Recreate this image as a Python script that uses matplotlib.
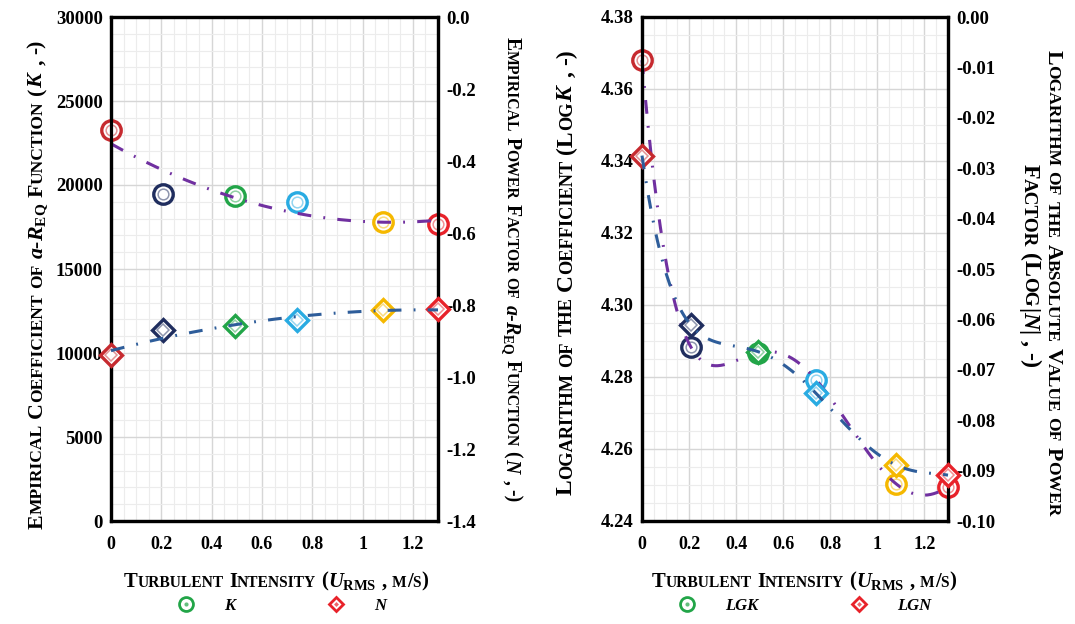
import numpy as np
import matplotlib
matplotlib.use("Agg")
import matplotlib.pyplot as plt
from matplotlib.lines import Line2D
from matplotlib.ticker import MultipleLocator, FixedLocator, FuncFormatter
from matplotlib.transforms import IdentityTransform

SERIF = "Liberation Serif"
plt.rcParams["font.family"] = SERIF
plt.rcParams["font.weight"] = "bold"
plt.rcParams["axes.unicode_minus"] = False
plt.rcParams["mathtext.fontset"] = "custom"
plt.rcParams["mathtext.rm"] = "Liberation Serif:bold"
plt.rcParams["mathtext.it"] = "Liberation Serif:italic:bold"
plt.rcParams["mathtext.bf"] = "Liberation Serif:bold"

# turbulent intensity u_rms (m/s) for the six test cases
u_rms = [0.0, 0.207, 0.493, 0.740, 1.080, 1.300]
K = [23300, 19450, 19350, 18980, 17800, 17700]
N = [-0.940, -0.869, -0.859, -0.841, -0.815, -0.811]
LGK = [4.3680, 4.2884, 4.2867, 4.2792, 4.2503, 4.2495]
LGN = [-0.0275, -0.0611, -0.0664, -0.0747, -0.0889, -0.0909]
point_colors = ["#c62a2f", "#1f2d5e", "#22a548", "#29abe2", "#f5b800", "#e8222a"]
x_ticks = [0, 0.2, 0.4, 0.6, 0.8, 1.0, 1.2]

W, H = 1075, 624
fig = plt.figure(figsize=(W / 100, H / 100), dpi=100)
renderer = fig.canvas.get_renderer()
PX = fig.dpi / 72


def caps_parts(text, big, small):
    parts = []
    for i, word in enumerate(text.split(" ")):
        if i:
            parts.append((" ", big))
        run, run_size = "", None
        for ch in word:
            size = small if ch.islower() else big
            if run and size != run_size:
                parts.append((run, run_size))
                run = ""
            run += ch.upper()
            run_size = size
        if run:
            parts.append((run, run_size))
    return parts


def measure(items, big, ratio):
    parts = []
    for item in items:
        if item.startswith("$"):
            parts.append((item, big))
        else:
            parts += caps_parts(item, big, big * ratio)
    widths = []
    for s, size in parts:
        if s == " ":
            widths.append(0.25 * size * PX)
        else:
            t = fig.text(0, 0, s, fontsize=size, fontweight="bold")
            widths.append(t.get_window_extent(renderer).width)
            t.remove()
    return parts, widths


def place_label(items, cx, cy_top, rotation, length, ratio=0.8):
    # small-caps label, pieces laid one after another along the text direction
    parts, widths = measure(items, 13, ratio)
    big = 13 * length / sum(widths)
    parts, widths = measure(items, big, ratio)
    total = sum(widths)
    cy = H - cy_top
    cap = 0.66 * big * PX
    pos = -total / 2
    for (s, size), w in zip(parts, widths):
        if s != " ":
            if rotation == 0:
                x, y = cx + pos, cy - cap / 2
            elif rotation == 90:
                x, y = cx + cap / 2, cy + pos
            else:
                x, y = cx - cap / 2, cy - pos
            fig.text(x, y, s, fontsize=size, fontweight="bold", rotation=rotation,
                     rotation_mode="anchor", ha="left", va="baseline",
                     transform=IdentityTransform())
        pos += w


def ring_markers(ax, x, y, marker, ms):
    for xi, yi, c in zip(x, y, point_colors):
        ax.plot(xi, yi, marker=marker, ms=ms, mfc="white", mec=c, mew=2.4,
                ls="none", zorder=3, clip_on=False)
        ax.plot(xi, yi, marker=marker, ms=ms * 0.55, mfc="none", mec=c, mew=1.1,
                alpha=0.5, ls="none", zorder=3, clip_on=False)


def trend(ax, x, y, deg, color):
    fit = np.polynomial.Polynomial.fit(x, y, deg)
    xs = np.linspace(0, 1.3, 300)
    ax.plot(xs, fit(xs), color=color, lw=2.2, dashes=(4.5, 4, 0.6, 4),
            zorder=4, clip_on=False)


def frame(ax, twin, ylim, ymajor, yminor, ylim2, ymajor2, fmt, fmt2):
    ax.set_xlim(0, 1.3)
    ax.xaxis.set_major_locator(FixedLocator(x_ticks))
    ax.xaxis.set_minor_locator(MultipleLocator(0.05))
    ax.xaxis.set_major_formatter(FuncFormatter(lambda v, p: f"{v:g}"))
    ax.set_ylim(*ylim)
    ax.yaxis.set_major_locator(MultipleLocator(ymajor))
    ax.yaxis.set_minor_locator(MultipleLocator(yminor))
    ax.yaxis.set_major_formatter(FuncFormatter(fmt))
    twin.set_ylim(*ylim2)
    twin.yaxis.set_major_locator(MultipleLocator(ymajor2))
    twin.yaxis.set_major_formatter(FuncFormatter(fmt2))
    ax.grid(which="major", color="#d6d6d6", lw=1.0)
    ax.grid(which="minor", color="#ececec", lw=0.8)
    ax.set_axisbelow(True)
    ax.tick_params(which="both", length=0, labelsize=13.5)
    ax.tick_params(axis="y", pad=6)
    ax.tick_params(axis="x", pad=11, labelsize=13)
    twin.tick_params(which="both", length=0, labelsize=13.5, pad=6)
    for a in (ax, twin):
        for sp in a.spines.values():
            sp.set_linewidth(2.3)
            sp.set_color("black")


def signed(dec):
    def f(v, p):
        s = f"{v:.{dec}f}"
        return s[1:] if s.startswith("-") and float(s) == 0 else s
    return f


# left panel: K and N against turbulent intensity
ax1 = fig.add_axes([111 / W, 103 / H, 327 / W, 504 / H])
tw1 = ax1.twinx()
frame(ax1, tw1, (0, 30000), 5000, 1000, (-1.4, 0), 0.2,
      lambda v, p: f"{v:.0f}", signed(1))
ring_markers(ax1, u_rms, K, "o", 14)
trend(ax1, u_rms, K, 2, "#7030a0")
ring_markers(tw1, u_rms, N, "D", 11)
trend(tw1, u_rms, N, 2, "#2e5d9a")

# right panel: log K and log |N|
ax2 = fig.add_axes([642 / W, 103 / H, 306 / W, 504 / H])
tw2 = ax2.twinx()
frame(ax2, tw2, (4.24, 4.38), 0.02, 0.005, (-0.10, 0.0), 0.01,
      lambda v, p: f"{v:.2f}", signed(2))
ring_markers(ax2, u_rms, LGK, "o", 14)
trend(ax2, u_rms, LGK, 5, "#7030a0")
ring_markers(tw2, u_rms, LGN, "D", 11)
trend(tw2, u_rms, LGN, 5, "#2e5d9a")

a_req = r"$\mathit{a}$-$\mathit{R}_{\mathrm{EQ}}$"
place_label(["Empirical Coefficient of ", a_req, " Function (", r"$\mathit{K}$", " , -)"],
            35, 284, 90, 490)
place_label(["Empirical Power Factor of ", a_req, " Function (", r"$\mathit{N}$", " , -)"],
            513, 270, 270, 466)
place_label(["Logarithm of the Coefficient (Log", r"$\mathit{K}$", " , -)"],
            564, 272, 90, 445, ratio=0.78)
place_label(["Logarithm of the Absolute Value of Power"], 1055, 283, 270, 465)
place_label(["Factor (Log", r"$|\mathit{N}|$", " , -)"], 1032, 266, 270, 205)
xlab = ["Turbulent Intensity (", r"$\mathit{U}_{\mathrm{RMS}}$", " , m/s)"]
place_label(xlab, 276, 580, 0, 305, ratio=0.75)
place_label(xlab, 804, 580, 0, 305, ratio=0.75)


def legend_handles():
    k = (Line2D([], [], marker="o", ms=10, mfc="white", mec="#22a548", mew=2, ls="none"),
         Line2D([], [], marker="o", ms=3, mfc="#22a548", mec="none", alpha=0.7, ls="none"))
    n = (Line2D([], [], marker="D", ms=7.5, mfc="white", mec="#e8222a", mew=2, ls="none"),
         Line2D([], [], marker="D", ms=2.5, mfc="#e8222a", mec="none", alpha=0.7, ls="none"))
    return [k, n]


for labels, xc in ((["K", "N"], 282), (["LGK", "LGN"], 805)):
    fig.legend(legend_handles(), labels, loc="center", ncol=2, frameon=False,
               bbox_to_anchor=(xc / W, 1 - 606 / H), handlelength=1,
               handletextpad=1.8, columnspacing=5.5,
               prop={"family": SERIF, "style": "italic", "weight": "bold", "size": 12})

fig.savefig("out.png", dpi=100)
